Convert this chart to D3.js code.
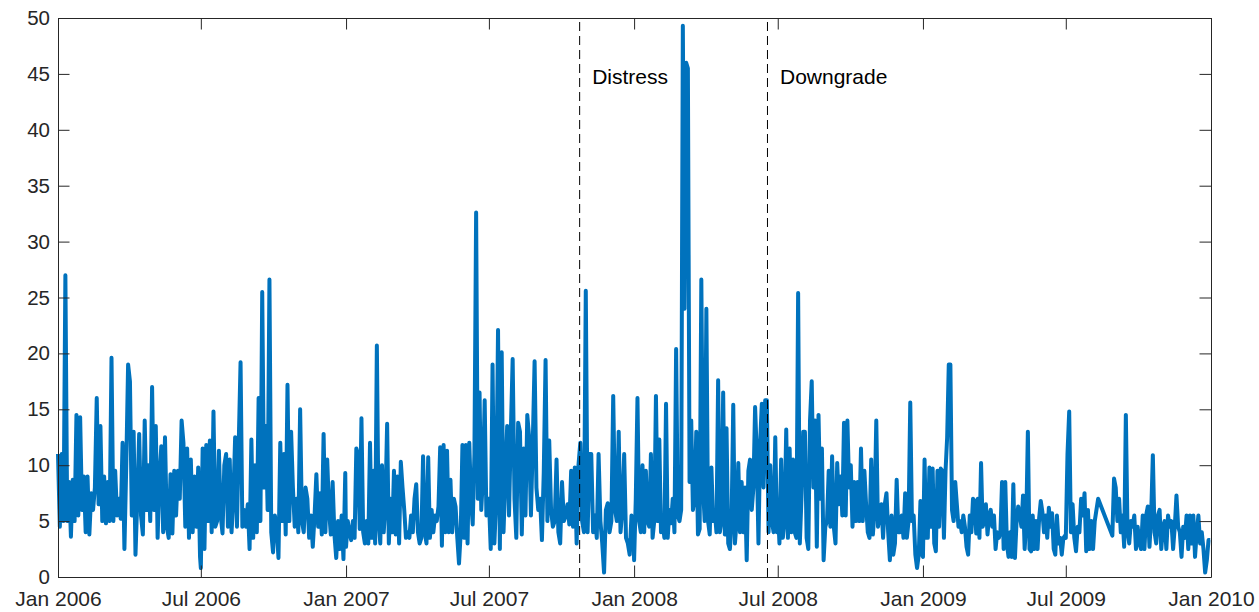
<!DOCTYPE html>
<html>
<head>
<meta charset="utf-8">
<script src="https://cdn.jsdelivr.net/npm/d3@7"></script>
<style>
  html, body { margin: 0; padding: 0; background: #ffffff; }
  svg { display: block; }
  text { font-family: "Liberation Sans", Arial, Helvetica, sans-serif; }
</style>
</head>
<body>
<div id="chart"></div>
<script>
// ---------- data (evenly spaced within each period) ----------
const v2006H1 = [11, 4.5, 11, 5, 27, 5, 8.5, 3.6, 8.7, 5, 14.5, 5.5, 14.3, 6, 9, 4, 9, 3.8, 7.5, 6, 8, 16, 6.5, 13.5, 5, 9, 4.8, 8.5, 5, 19.6, 5, 9.5, 5.5, 7, 5.2, 12, 2.5, 10, 19, 17.5, 5.5, 13, 2, 7, 12.8, 5.5, 3.8, 14, 6, 10, 5, 17, 6, 13.5, 3.5, 9, 11.7, 4, 12.5, 4.5, 3.5, 9.2, 3.9, 9.5, 5.5, 9.5, 7, 14, 12, 4.5, 11.5, 3.5, 10.5, 4, 9, 4.5, 9.8, 1.8];
const v2006H2 = [0.8, 11.5, 2.5, 11.8, 5, 12.2, 4, 14.8, 4.5, 5, 11.3, 5.5, 3.9, 10, 11, 4.5, 10.5, 4, 7, 12.5, 4.5, 12, 19.2, 4.5, 6, 4.5, 6.5, 2.5, 12.3, 3.5, 10, 4, 16, 5, 25.5, 8, 13.5, 6, 26.6, 4, 2.2, 5.5, 4.5, 1.7, 12, 5, 11, 3.8, 17.2, 5, 13, 8, 4.5, 7, 4, 15, 5, 4, 8, 7, 3.5, 5.5, 2.7, 5.5, 9.2, 4.5, 7.5, 3.8, 12.8, 4, 10.5, 6, 3.8, 8.5, 3.8, 1.7, 5, 2.5, 5.5, 1.6, 9.3];
const v2007H1 = [2.7, 5, 4, 3.3, 5, 3.5, 11.5, 11, 4.3, 14.2, 4, 3, 5, 3, 12, 3.5, 9.5, 3, 20.7, 5, 3, 10, 4, 6.5, 13.7, 3, 7, 4, 9.5, 3.8, 9, 3, 10.3, 8, 6, 3.5, 4, 3.5, 5.5, 4, 7, 8.3, 4, 3, 3.5, 10.8, 4, 3, 10.7, 3.5, 6, 4, 5.5, 5, 6.3, 11.6, 2.8, 11.8, 4, 11.3, 4, 8.7, 4, 7, 6.3, 3.5, 1.2, 4, 11.8, 3.5, 11.8, 3, 12, 7, 4.7, 11, 32.6, 7, 16.5, 6, 9, 15.8, 5.5, 7];
const v2007H2 = [7, 2.5, 19, 3, 7, 22.1, 2.5, 20.1, 4, 9, 13.5, 5.5, 13, 19.5, 7, 3.5, 13.8, 13, 3.8, 11.5, 5.5, 14.5, 12.5, 5.5, 12, 19.3, 8, 6, 7, 3.3, 9.3, 19.4, 5, 12.2, 6, 4.5, 5, 10.5, 4, 3, 8.5, 5, 5.5, 6.5, 4.7, 9.5, 4.5, 9.8, 3, 10, 12, 5, 4, 25.6, 4, 11, 11, 4, 5.5, 3.5, 11, 5, 3, 0.4, 6, 6.6, 4, 5, 16.2, 6, 5, 13, 4, 6, 11, 3.5, 3, 2, 5.5, 4];
const v2008H1 = [1.5, 7, 16, 5, 4, 10, 4, 9.5, 5, 4.5, 11, 3.5, 5, 16.2, 5, 12.3, 4, 5, 3.5, 15.5, 3.5, 6, 4.8, 7, 4, 20.4, 5.5, 5, 6, 49.3, 24, 46, 45.5, 8.5, 14, 6, 7, 13, 3.8, 4.3, 26.6, 8, 5, 24, 5, 3.8, 9.8, 5, 6, 4, 17.6, 4, 5, 16.5, 3.8, 13.3, 3, 2.5, 5, 15.4, 3, 5, 10.2, 4, 8.5, 4, 8, 1.5, 9.5, 10.5, 6, 8, 15.2, 11, 3, 12, 15.5, 8, 15.8, 15.8, 4, 10, 5, 4, 12.5, 4];
const v2008H2 = [6.5, 3, 10.5, 3.5, 5, 13.2, 3.5, 11.5, 4, 10.5, 4, 3.5, 25.4, 3, 7.2, 13, 13, 3.5, 2.5, 14, 17.5, 8, 14, 2.7, 14.5, 7, 11.5, 1.5, 4.5, 5, 9.5, 4.5, 10.8, 4.5, 3, 10.2, 6.5, 9, 5.5, 13.8, 5.5, 14, 8, 10, 4.5, 8.5, 5, 8.5, 5, 11.5, 5, 9.5, 6.5, 4, 3.5, 10.5, 3.8, 6, 14, 4.5, 5.5, 6.5, 3.5, 6.5, 7.5, 4, 1.5, 5.5, 2, 3, 8.7, 4, 4, 5.5, 3.5, 7.5, 3.5, 5, 15.6, 5, 5.5, 2, 0.8, 2, 6.8, 2];
const v2009H1 = [1.8, 10.5, 3.5, 3.5, 9.8, 4.5, 9.7, 3, 2.3, 9.5, 4.5, 9.7, 9.5, 3.5, 9.5, 12.5, 19, 19, 6, 5, 8.5, 6.5, 4.5, 5, 4, 5.5, 4.5, 2.7, 2, 5.5, 4, 7, 6.8, 3.9, 7, 3.5, 10.2, 4.5, 5, 6.5, 3.8, 5.5, 6, 4.5, 5.5, 2.5, 4, 3.5, 4, 8.5, 2.5, 8.5, 3, 1.8, 4, 1.8, 8.3, 1.7, 5, 6.3, 5.5, 4.5, 7.3, 2.5, 5, 13, 2.5, 2.3, 5.5, 2.5, 5, 2.5, 5.3, 6.8, 5.8, 4, 5.5, 3.5, 6.2, 4.5, 5.7, 2.5, 2, 5.5, 3, 3.5, 2, 3.5, 3.7];
const v2009Q3a = [3.5, 11, 14.8, 4, 6.5, 3.5, 2.3, 4.5, 4, 7, 5.5, 7.5, 2.3, 6, 2.5, 5, 2.5, 5, 6, 7];
const v2009Q3b = [3.7, 8.8, 8, 5, 7, 4, 5.5, 2.7, 14.5, 4, 3, 5, 4.5, 5.5, 2.5, 4.5, 3, 2.5, 5.5, 2.5, 5.5, 6.3, 2.7, 5.5, 10.9, 4, 3, 5.5, 6, 2.5, 4.5, 5, 2.5, 5.5, 4.5, 5, 2.5, 4.5, 7.3, 4.5, 4, 1.8, 4.5, 3.5, 5.5, 2.5, 5.5, 3, 5.5, 1.8, 4, 5.5, 3, 4, 2.5, 0.4, 1.5, 3.3, 3.3];

// period boundaries (first and last observation date of each block)
const periodStarts = ["2006-01-01", "2006-07-01", "2007-01-01", "2007-07-01", "2008-01-01", "2008-07-01", "2009-01-01", "2009-07-01", "2009-08-29"];
const periodEnds   = ["2006-06-30", "2006-12-31", "2007-06-30", "2007-12-31", "2008-06-30", "2008-12-31", "2009-06-30", "2009-08-11", "2009-12-31"];
const periodValues = [v2006H1, v2006H2, v2007H1, v2007H2, v2008H1, v2008H2, v2009H1, v2009Q3a, v2009Q3b];

const yTicks = [0, 5, 10, 15, 20, 25, 30, 35, 40, 45, 50];
const xTickDates = ["2006-01-01", "2006-07-01", "2007-01-01", "2007-07-01", "2008-01-01", "2008-07-01", "2009-01-01", "2009-07-01", "2010-01-01"];
const eventDates = ["2007-10-24", "2008-06-18"];
const eventLabels = ["Distress", "Downgrade"];

// ---------- build series ----------
const parse = d3.utcParse("%Y-%m-%d");
const series = [];
periodValues.forEach((vals, i) => {
  const t0 = parse(periodStarts[i]).getTime();
  const t1 = parse(periodEnds[i]).getTime();
  const n = vals.length;
  vals.forEach((v, j) => {
    series.push({ date: new Date(t0 + (t1 - t0) * (n > 1 ? j / (n - 1) : 0)), value: v });
  });
});

// ---------- layout ----------
const W = 1259, H = 612;
const margin = { top: 18, right: 48, bottom: 35, left: 58 };
const iw = W - margin.left - margin.right;
const ih = H - margin.top - margin.bottom;

const svg = d3.select("#chart").append("svg").attr("width", W).attr("height", H);
const g = svg.append("g").attr("transform", `translate(${margin.left},${margin.top})`);

const x = d3.scaleUtc().domain([parse("2006-01-01"), parse("2010-01-01")]).range([0, iw]);
const y = d3.scaleLinear().domain([0, 50]).range([ih, 0]);

const axisColor = "#262626";
const tickLen = 11.5;
const fmt = d3.utcFormat("%b %Y");
const xTicks = xTickDates.map(parse);

// line
const line = d3.line().x(d => x(d.date)).y(d => y(d.value));
g.append("path")
  .datum(series)
  .attr("fill", "none")
  .attr("stroke", "#0072BD")
  .attr("stroke-width", 4)
  .attr("stroke-linejoin", "round")
  .attr("stroke-linecap", "butt")
  .attr("d", line);

// event lines
eventDates.forEach((ds, i) => {
  const xd = x(parse(ds));
  g.append("line")
    .attr("x1", xd).attr("x2", xd)
    .attr("y1", y(0)).attr("y2", y(50))
    .attr("stroke", "#000").attr("stroke-width", 1)
    .attr("stroke-dasharray", "9,5");
  g.append("text")
    .attr("x", xd + 12.5)
    .attr("y", y(45) + 3)
    .attr("dy", "0.35em")
    .attr("font-size", 21)
    .attr("fill", "#000")
    .text(eventLabels[i]);
});

// axes
function styleAxis(sel, size) {
  sel.select(".domain").attr("stroke", axisColor).attr("stroke-width", 1);
  sel.selectAll(".tick line").attr("stroke", axisColor).attr("stroke-width", 1);
  sel.selectAll(".tick text").attr("fill", axisColor).attr("font-size", size || 20)
    .attr("font-family", '"Liberation Sans", Arial, Helvetica, sans-serif');
}

g.append("g").attr("transform", `translate(0,${ih})`)
  .call(d3.axisBottom(x).tickValues(xTicks).tickFormat(fmt).tickSizeInner(-tickLen).tickSizeOuter(0).tickPadding(14))
  .call(s => styleAxis(s, 21));
g.append("g")
  .call(d3.axisTop(x).tickValues(xTicks).tickFormat("").tickSizeInner(-tickLen).tickSizeOuter(0))
  .call(s => styleAxis(s));
g.append("g")
  .call(d3.axisLeft(y).tickValues(yTicks).tickFormat(d3.format("d")).tickSizeInner(-tickLen).tickSizeOuter(0).tickPadding(8))
  .call(s => styleAxis(s, 20.5));
g.append("g").attr("transform", `translate(${iw},0)`)
  .call(d3.axisRight(y).tickValues(yTicks).tickFormat("").tickSizeInner(-tickLen).tickSizeOuter(0))
  .call(s => styleAxis(s));
</script>
</body>
</html>
